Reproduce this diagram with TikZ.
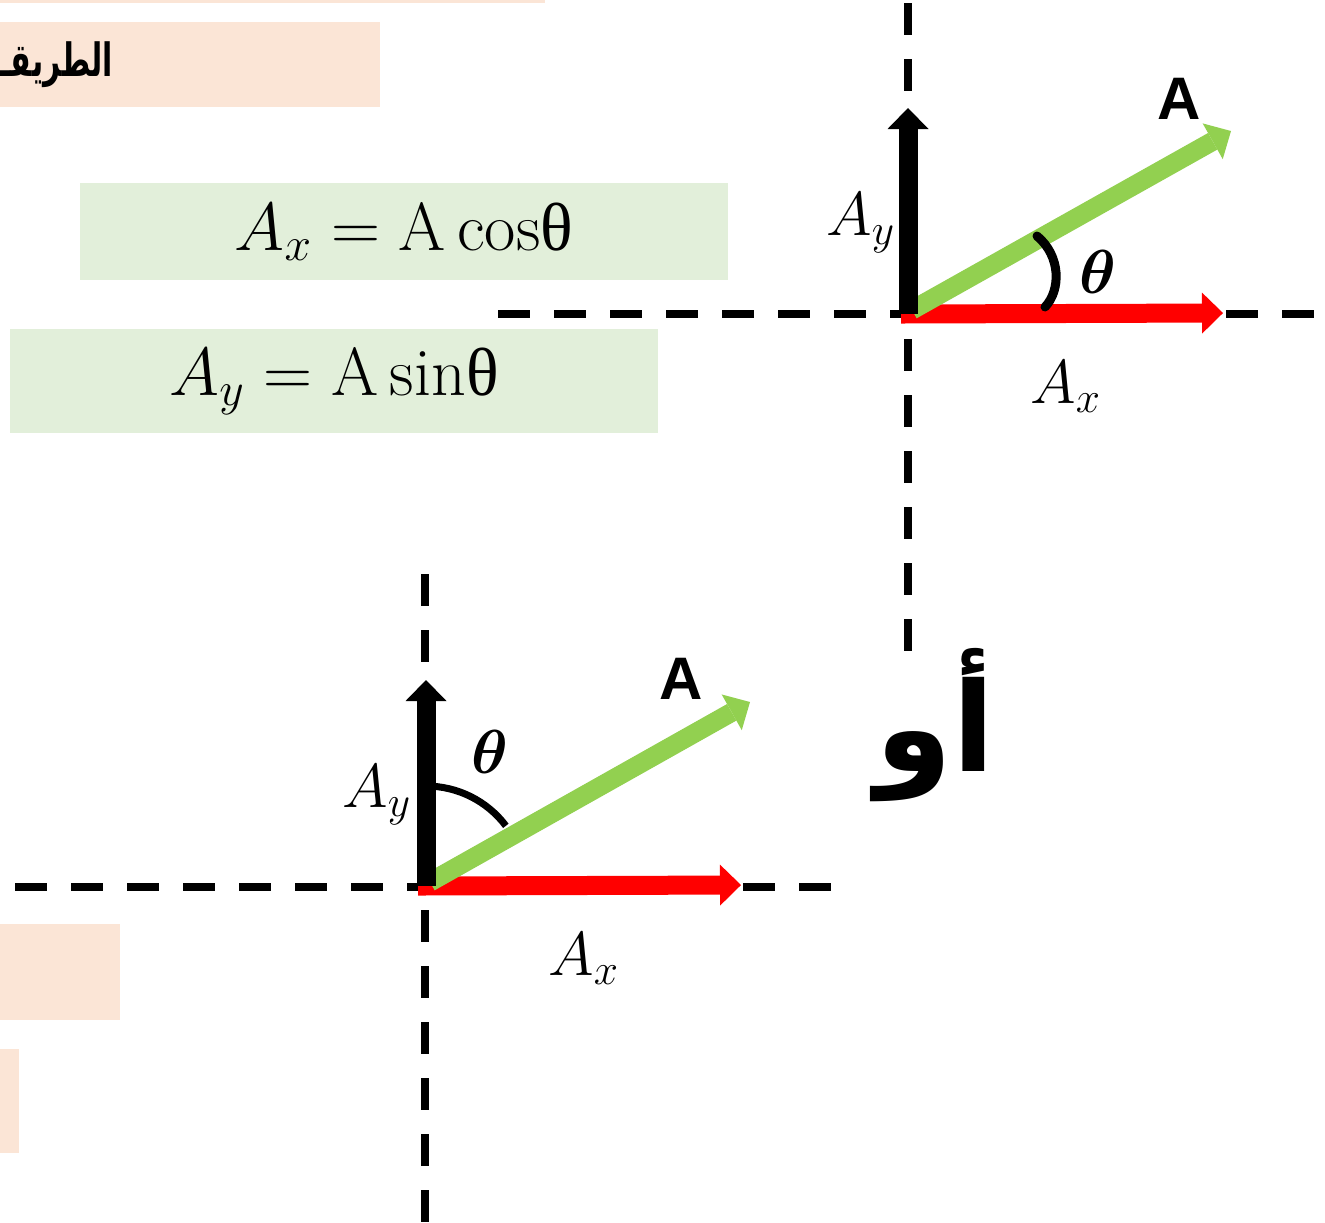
\RequirePackage{fix-cm}
\documentclass[tikz,border=0pt]{standalone}
\usepackage{amsmath}
\usepackage{graphicx}
\usepackage{fontspec}
\usepackage{tikz}
\usetikzlibrary{arrows.meta}
\TeXXeTstate=1
\newfontfamily\arabicfont[Script=Arabic]{DejaVu Sans}
\newfontfamily\vecfont{Liberation Sans}
\newfontfamily\grkfont{Liberation Serif}
\definecolor{peachbg}{HTML}{FBE5D6}
\definecolor{eqgreen}{HTML}{E2EFDA}
\definecolor{vecgreen}{HTML}{92D050}
\definecolor{vecred}{HTML}{FF0000}

\begin{document}
\begin{tikzpicture}[
  x=0.5pt, y=-0.5pt,
  eqbox/.style={fill=eqgreen, inner sep=0pt, minimum width=324pt,
    font=\fontsize{34}{40}\selectfont},
  axisline/.style={line width=4pt, dash pattern=on 16pt off 12pt},
  vec/.style={line width=9.5pt,
    -{Triangle[length=10.5pt, width=20.5pt, line width=0pt]}},
  lbl/.style={inner sep=0pt, font=\fontsize{31}{36}\selectfont},
  bold label/.style={inner sep=0pt, font=\vecfont\bfseries\fontsize{30}{35}\selectfont},
]
\useasboundingbox (0,0) rectangle (1325,1222);

% shaded boxes
\fill[peachbg] (0,0) rectangle (545,3);
\fill[peachbg] (0,22) rectangle (380,107);
\fill[peachbg] (0,924) rectangle (120,1020);
\fill[peachbg] (0,1049) rectangle (19,1153);
\node[anchor=east, inner sep=0pt, font=\arabicfont\bfseries\fontsize{24}{28}\selectfont]
  (title) at (113,65) {\resizebox*{56pt}{23pt}{\beginR الطريقـ\endR}};

\node[eqbox, minimum height=48.5pt] (eqx) at (404,231.5)
  {$A_x = \mathrm{A\,cos}\text{\grkfont θ}$};
\node[eqbox, minimum height=52pt] (eqy) at (334,381)
  {$A_y = \mathrm{A\,sin}\text{\grkfont θ}$};

% first sketch: theta from the x axis
\coordinate (o1) at (908,314);
\coordinate (ax1) at (1223,313);
\coordinate (ay1) at (908,108);
\coordinate (a1) at (1231,131);
\coordinate (h1w) at (498,314);
\coordinate (h1e) at (1315,314);
\coordinate (v1n) at (908,3);
\coordinate (v1s) at (908,651);
\draw[axisline] (h1w) -- (h1e);
\draw[axisline] (v1n) -- (v1s);
\draw[vec, vecred] ([xshift=-3.5pt]o1) -- (ax1);
\draw[vec, vecgreen] ([xshift=2pt, yshift=2pt]o1) -- (a1);
\draw[vec, black] (o1) -- (ay1);
\draw[line width=4.5pt, line cap=round] (1037,236) .. controls (1061,256) and (1061,290) .. (1045,307);
\node[bold label] (A1) at (1179,99) {A};
\node[lbl, anchor=base west] (Ay1) at (826,235) {$A_y$};
\node[lbl, anchor=base west] (Ax1) at (1030,403) {$A_x$};
\node[lbl] (th1) at (1098,272) {$\boldsymbol{\theta}$};

\node[inner sep=0pt, font=\arabicfont\bfseries\fontsize{62}{70}\selectfont]
  (or) at (935,725) {\beginR أو\endR};

% second sketch: theta from the y axis
\coordinate (o2) at (426,886);
\coordinate (ax2) at (741,885);
\coordinate (ay2) at (426,680);
\coordinate (a2) at (750,702);
\coordinate (h2w) at (15,887);
\coordinate (h2e) at (832,887);
\coordinate (v2n) at (425,574);
\coordinate (v2s) at (425,1240);
\draw[axisline] (h2w) -- (h2e);
\draw[axisline] (v2n) -- (v2s);
\draw[vec, vecred] ([xshift=-4pt]o2) -- (ax2);
\draw[vec, vecgreen] ([xshift=2pt, yshift=2pt]o2) -- (a2);
\draw[vec, black] (o2) -- (ay2);
\draw[line width=3.5pt] ([yshift=50pt]o2) arc[start angle=90, end angle=37, radius=50pt];
\node[bold label] (A2) at (681,679) {A};
\node[lbl, anchor=base west] (Ay2) at (342,807) {$A_y$};
\node[lbl, anchor=base west] (Ax2) at (548,975) {$A_x$};
\node[lbl] (th2) at (490,752) {$\boldsymbol{\theta}$};
\end{tikzpicture}
\end{document}
